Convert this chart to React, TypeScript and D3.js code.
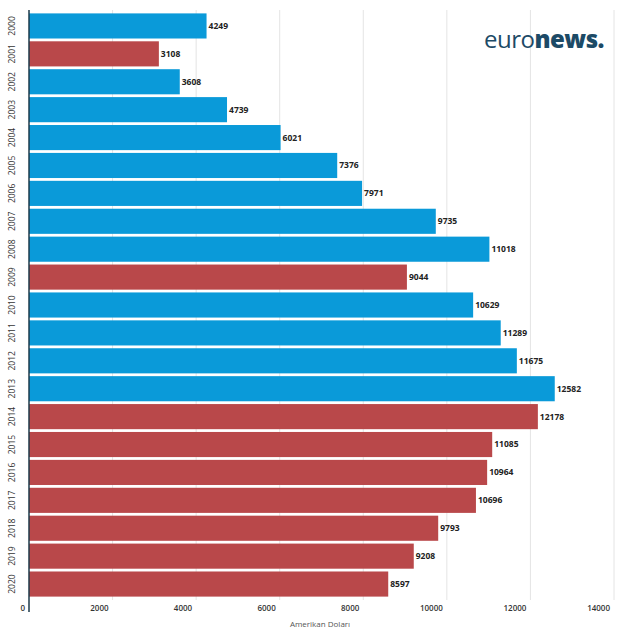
import React from 'react';
import * as d3 from 'd3';

const years = ['2000','2001','2002','2003','2004','2005','2006','2007','2008','2009','2010','2011','2012','2013','2014','2015','2016','2017','2018','2019','2020'];
const values = [4249,3108,3608,4739,6021,7376,7971,9735,11018,9044,10629,11289,11675,12582,12178,11085,10964,10696,9793,9208,8597];
const declined = [false,true,false,false,false,false,false,false,false,true,false,false,false,false,true,true,true,true,true,true,true];
const xTicks = [0,2000,4000,6000,8000,10000,12000,14000];

const BLUE = '#0a9ad9';
const RED = '#b9484a';

export default function App() {
  const x = d3.scaleLinear().domain([0, 14000]).range([29, 614]);
  const y = d3.scaleBand().domain(years).range([12, 598]).paddingInner(0.1).paddingOuter(0.05);
  const font = '"Open Sans", sans-serif';
  return (
    <svg width={640} height={640} style={{ position: 'absolute', left: 0, top: 0, background: '#fff' }}>
      {xTicks.slice(1).map(t => (
        <line key={t} x1={x(t)} x2={x(t)} y1={10} y2={600} stroke="#e4e4e4" strokeWidth={1} />
      ))}
      {years.map((yr, i) => (
        <g key={yr}>
          <rect x={x(0)} y={y(yr)!} width={x(values[i]) - x(0)} height={y.bandwidth()}
            fill={declined[i] ? RED : BLUE} />
          <text x={x(values[i]) + 2} y={y(yr)! + y.bandwidth() / 2} dy="0.35em"
            fontFamily={font} fontSize={8.5} fontWeight={700} fill="#222">{values[i]}</text>
          <text transform={`translate(12,${y(yr)! + y.bandwidth() / 2}) rotate(-90)`}
            textAnchor="middle" dy="0.35em" fontFamily={font} fontSize={8.5} fill="#333">{yr}</text>
        </g>
      ))}
      <line x1={x(0)} x2={x(0)} y1={10} y2={612} stroke="#1c3a4a" strokeWidth={1.5} />
      {xTicks.map(t => (
        <text key={t} x={x(t) - 4} y={611} textAnchor="end" fontFamily={font} fontSize={8} fontWeight={600} fill="#333">{t}</text>
      ))}
      <text x={320} y={627} textAnchor="middle" fontFamily={font} fontSize={8} fill="#555">Amerikan Doları</text>
      <text x={604} y={48} textAnchor="end" fontFamily={font} fontSize={24} fill="#1c4a66" letterSpacing={-0.5}>
        euro<tspan fontWeight={800}>news</tspan><tspan fontWeight={800} fill="#1c4a66">.</tspan>
      </text>
    </svg>
  );
}
